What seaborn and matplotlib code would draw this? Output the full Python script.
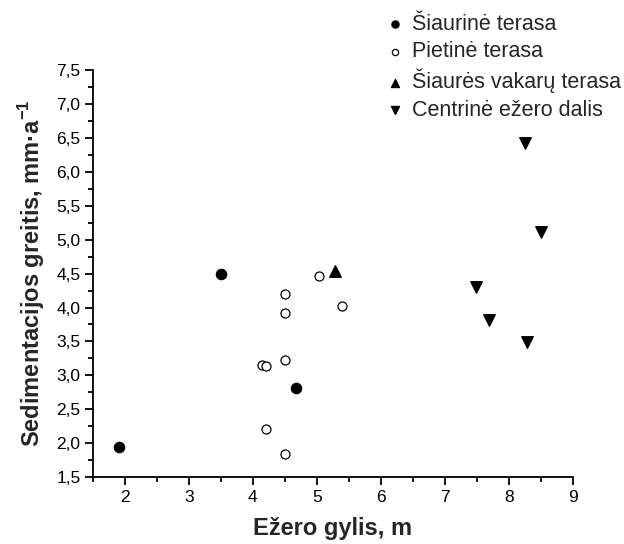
import matplotlib
matplotlib.use("Agg")
import matplotlib.pyplot as plt
from matplotlib.ticker import MultipleLocator, FuncFormatter
import seaborn as sns
import pandas as pd

# Lake depth (m) and sedimentation rate (mm/a) per lake zone
north_depth = [1.9, 3.5, 4.67]
north_rate = [1.95, 4.49, 2.82]

south_depth = [4.14, 4.2, 4.5, 4.5, 4.5, 5.04, 5.39, 4.2, 4.5]
south_rate = [3.15, 3.14, 3.22, 3.92, 4.20, 4.46, 4.03, 2.21, 1.84]

northwest_depth = [5.29]
northwest_rate = [4.54]

central_depth = [7.49, 7.69, 8.29, 8.5, 8.25]
central_rate = [4.31, 3.81, 3.49, 5.11, 6.42]

labels = ["Šiaurinė terasa", "Pietinė terasa",
          "Šiaurės vakarų terasa", "Centrinė ežero dalis"]

groups = [
    (north_depth, north_rate, labels[0], "o", "black", 55),
    (south_depth, south_rate, labels[1], "o", "white", 42),
    (northwest_depth, northwest_rate, labels[2], "^", "black", 70),
    (central_depth, central_rate, labels[3], "v", "black", 70),
]

sns.set_style("ticks")
plt.rcParams["font.family"] = ["Liberation Sans", "DejaVu Sans"]
plt.rcParams["mathtext.fontset"] = "custom"
plt.rcParams["mathtext.rm"] = "Liberation Sans"
plt.rcParams["mathtext.bf"] = "Liberation Sans:bold"

fig = plt.figure(figsize=(6.24, 5.44), dpi=100)
ax = fig.add_axes([0.149, 0.123, 0.769, 0.748])

for xs, ys, lab, mk, fc, sz in groups:
    df = pd.DataFrame({"x": xs, "y": ys})
    sns.scatterplot(data=df, x="x", y="y", ax=ax, marker=mk, s=sz,
                    facecolor=fc, edgecolor="black", linewidth=0.9,
                    label=lab, zorder=3)

ax.set_xlim(1.5, 9)
ax.set_ylim(1.5, 7.5)
ax.xaxis.set_major_locator(MultipleLocator(1))
ax.xaxis.set_minor_locator(MultipleLocator(0.5))
ax.yaxis.set_major_locator(MultipleLocator(0.5))
ax.yaxis.set_minor_locator(MultipleLocator(0.25))
ax.yaxis.set_major_formatter(FuncFormatter(lambda v, p: f"{v:.1f}".replace(".", ",")))
ax.xaxis.set_major_formatter(FuncFormatter(lambda v, p: f"{v:.0f}"))

for side in ("top", "right"):
    ax.spines[side].set_visible(False)
for side in ("left", "bottom"):
    ax.spines[side].set_linewidth(1.3)
    ax.spines[side].set_color("black")

ax.tick_params(which="major", direction="out", length=6, width=1.3,
               labelsize=12.5, colors="black", pad=3)
ax.tick_params(which="minor", direction="out", length=3.5, width=1.3,
               colors="black")

ax.set_xlabel("Ežero gylis, m", fontsize=17, fontweight="bold", labelpad=9)
ax.set_ylabel(r"Sedimentacijos greitis, mm·a$^{\mathbf{-1}}$", fontsize=17,
              fontweight="bold", labelpad=7)

handles, hl = ax.get_legend_handles_labels()
ax.legend(handles, hl, loc="upper left", bbox_to_anchor=(0.598, 0.994),
          bbox_transform=fig.transFigure, frameon=False, fontsize=15.5,
          markerscale=0.7, handletextpad=0.3, labelspacing=0.3,
          handlelength=1.0, borderaxespad=0.1)

fig.savefig("out.png", dpi=100)
